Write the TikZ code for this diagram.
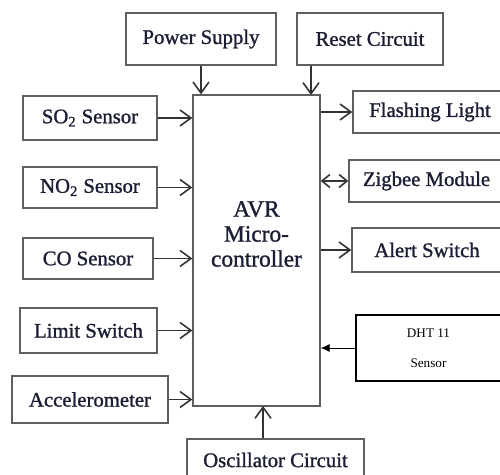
\documentclass[tikz,border=0pt]{standalone}
\usepackage{fontspec}
\setmainfont{Liberation Serif}
\newfontfamily\lblfont{Liberation Serif}[FakeBold=1.2]
\usetikzlibrary{arrows.meta}
\definecolor{boxgray}{RGB}{95,95,95}
\definecolor{inkblue}{RGB}{28,30,52}
\begin{document}
\begin{tikzpicture}[x=0.02cm, y=-0.02cm,
        blk/.style={draw=boxgray, line width=0.8pt, inner sep=0pt, text=inkblue,
            font=\lblfont\fontsize{11.8}{14}\selectfont},
        arr/.style={draw=black!80, line width=0.9pt, -{Straight Barb[length=2.2mm,width=3.2mm]}},
        darr/.style={draw=black!80, line width=0.9pt,
            {Straight Barb[length=1.6mm,width=2.6mm]}-{Straight Barb[length=1.6mm,width=2.6mm]}},
        thin arr/.style={draw=black, line width=0.5pt, -{Latex[length=1.8mm,width=1.6mm]}}]
                \useasboundingbox (0,0) rectangle (500,475);
                \clip (0,0) rectangle (500,475);
                % controller in the middle
                \node[blk, minimum width=2.54cm, minimum height=6.22cm] (mcu) at (256.5,250.5) {};
                \node[align=center, text=inkblue, inner sep=0pt,
                    font=\lblfont\fontsize{13.3}{14.2}\selectfont] (mcutext) at (256.5,234) {AVR\\Micro-\\controller};
                % top
                \node[blk, minimum width=3cm, minimum height=1.04cm] (power) at (201,39) {Power Supply};
                \node[blk, minimum width=2.92cm, minimum height=1.04cm] (reset) at (370,39) {Reset Circuit};
                % inputs on the left
                \node[blk, minimum width=2.68cm, minimum height=0.88cm] (so2) at (90,118) {SO\textsubscript{2} Sensor};
                \node[blk, minimum width=2.68cm, minimum height=0.82cm] (no2) at (90,187.5) {NO\textsubscript{2} Sensor};
                \node[blk, minimum width=2.6cm, minimum height=0.82cm] (co) at (88,258.5) {CO Sensor};
                \node[blk, minimum width=2.74cm, minimum height=0.9cm] (limit) at (88.5,330.5) {Limit Switch};
                \node[blk, minimum width=3.12cm, minimum height=0.94cm] (accel) at (90,399.5) {Accelerometer};
                % right side
                \node[blk, minimum width=3.08cm, minimum height=0.84cm] (flash) at (430,112) {Flashing Light};
                \node[blk, minimum width=3.1cm, minimum height=0.84cm] (zigbee) at (426.5,181) {Zigbee Module};
                \node[blk, minimum width=3cm, minimum height=0.88cm] (alert) at (427,250) {Alert Switch};
                \node[draw=black, line width=0.6pt, minimum width=2.9cm, minimum height=1.32cm, align=center,
                    font=\fontsize{7.5}{17}\selectfont] (dht) at (428.5,348) {DHT 11\\Sensor};
                % bottom
                \node[blk, minimum width=3.54cm, minimum height=0.84cm] (osc) at (275.5,460) {Oscillator Circuit};
                \coordinate (rsin) at (311,95);
                \coordinate (oscin) at (263,406);
                % connections
                \draw[arr] (power.south) -- (power.south |- mcu.north);
                \draw[arr] (rsin |- reset.south) -- (rsin);
                \foreach \s in {so2, no2, co, limit, accel}
                    \draw[arr] (\s.east) -- (\s.east -| mcu.west);
                \draw[arr] (mcu.east |- flash.west) -- (flash.west);
                \draw[darr] (mcu.east |- zigbee.west) -- (zigbee.west);
                \draw[arr] (mcu.east |- alert.west) -- (alert.west);
                \draw[thin arr] (dht.west) -- (dht.west -| mcu.east);
                \draw[arr] (oscin |- osc.north) -- (oscin);
            \end{tikzpicture}
\end{document}
